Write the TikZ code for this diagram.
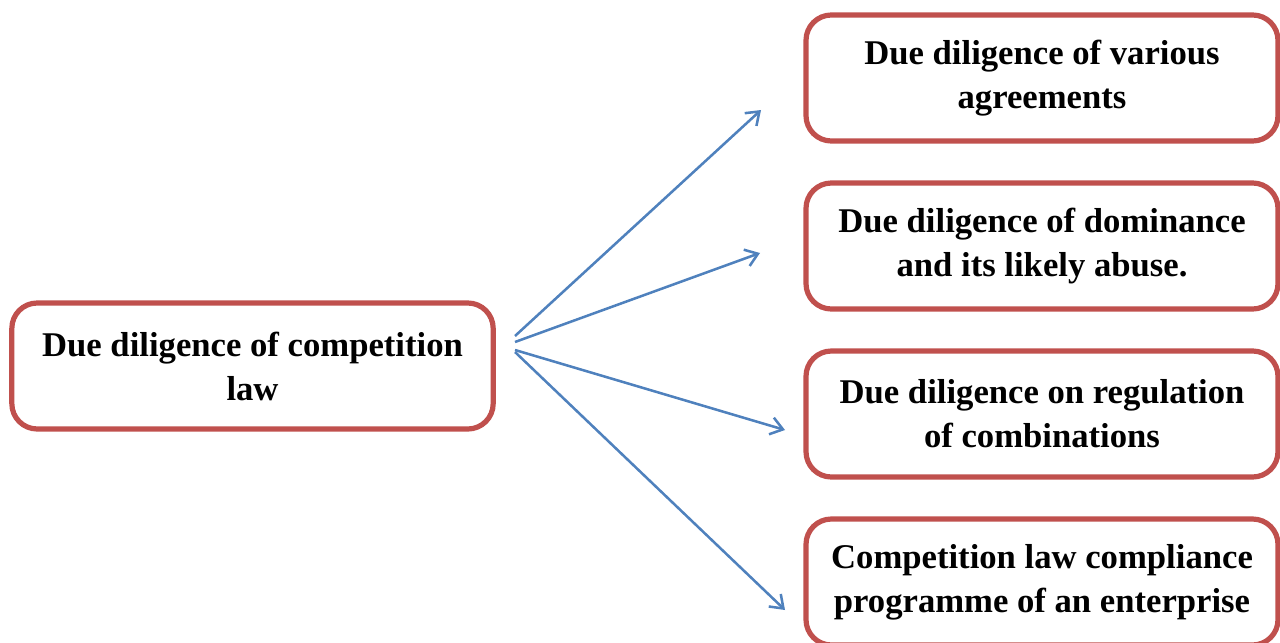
\documentclass[tikz,border=0pt]{standalone}
\usepackage{fontspec}
\setmainfont{Liberation Serif}
\usetikzlibrary{arrows.meta}
\definecolor{boxred}{HTML}{C0504D}
\definecolor{arrblue}{HTML}{4F81BD}
\begin{document}
\begin{tikzpicture}[x=0.75pt,y=-0.75pt,
  box/.style={draw=boxred,line width=3.9pt,rounded corners=19pt,fill=white,
    align=center,inner sep=0pt,font=\fontsize{26}{33}\selectfont\bfseries},
  conn/.style={draw=arrblue,line width=1.9pt,-{Straight Barb[length=9pt,width=13pt,line width=1.9pt]}}]
\useasboundingbox (0,0) rectangle (1280,642);
\clip (0,0) rectangle (1280,642);
\node[box,minimum width=361pt,minimum height=94.5pt] (L) at (252.5,366) {Due diligence of competition\\law};
\node[box,minimum width=354pt,minimum height=94.5pt] (R1) at (1042,78) {Due diligence of various\\agreements};
\node[box,minimum width=354pt,minimum height=94.5pt] (R2) at (1042,246) {Due diligence of dominance\\and its likely abuse.};
\node[box,minimum width=354pt,minimum height=94.5pt] (R3) at (1042,414) {Due diligence on regulation\\of combinations};
\node[box,minimum width=354pt,minimum height=94.5pt] (R4) at (1042,582) {Competition law compliance\\programme of an enterprise};
\coordinate (s1) at (515,336);
\coordinate (s2) at (515,342);
\coordinate (s3) at (515,350);
\coordinate (s4) at (515,352);
\coordinate (e1) at (761,110);
\coordinate (e2) at (760,253);
\coordinate (e3) at (785,430);
\coordinate (e4) at (785,610);
\draw[conn] (s1) -- (e1);
\draw[conn] (s2) -- (e2);
\draw[conn] (s3) -- (e3);
\draw[conn] (s4) -- (e4);
\end{tikzpicture}
\end{document}
